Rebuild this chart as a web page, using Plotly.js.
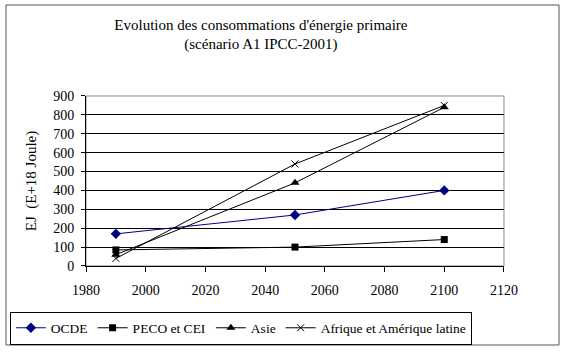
<!DOCTYPE html>
<html><head><meta charset="utf-8">
<script src="https://cdn.plot.ly/plotly-3.0.1.min.js"></script>
<style>body{margin:0;background:#fff}#c{width:567px;height:356px}</style>
</head><body><div id="c"></div>
<script>
const years = [1990, 2050, 2100];
const ocde = [170, 270, 400];
const peco = [85, 100, 140];
const asie = [60, 440, 840];
const afrique = [40, 540, 850];
const names = ['OCDE', 'PECO et CEI', 'Asie', 'Afrique et Amérique latine'];
const xTicks = [1980, 2000, 2020, 2040, 2060, 2080, 2100, 2120];
const yTicks = [0, 100, 200, 300, 400, 500, 600, 700, 800, 900];

const font = {family: '"Liberation Serif", "DejaVu Serif", serif', color: '#000'};
const f = s => Object.assign({size: s}, font);
const traces = [
  {x: years, y: ocde, name: names[0], mode: 'lines+markers', line: {color: '#000080', width: 1}, marker: {symbol: 'diamond', size: 8, color: '#000080'}},
  {x: years, y: peco, name: names[1], mode: 'lines+markers', line: {color: '#000', width: 1}, marker: {symbol: 'square', size: 7, color: '#000'}},
  {x: years, y: asie, name: names[2], mode: 'lines+markers', line: {color: '#000', width: 1}, marker: {symbol: 'triangle-up', size: 8, color: '#000'}},
  {x: years, y: afrique, name: names[3], mode: 'lines+markers', line: {color: '#000', width: 1}, marker: {symbol: 'x-thin', size: 7, line: {color: '#000', width: 1}}}
];
const layout = {
  width: 567, height: 356,
  margin: {l: 6, r: 8, t: 5, b: 11},
  paper_bgcolor: '#fff', plot_bgcolor: '#fff',
  font: f(14),
  title: {text: "Evolution des consommations d'énergie primaire<br>(scénario A1 IPCC-2001)", x: 0.461, xref: 'paper', xanchor: 'center', y: 0.917, yanchor: 'top', font: f(15)},
  xaxis: {domain: [0.1447, 0.9005], range: [1980, 2120], tickvals: xTicks, ticks: 'outside', ticklen: 5, tickcolor: '#000', showgrid: false, zeroline: false, showline: true, linecolor: '#000', ticklabelstandoff: 6, tickfont: f(14)},
  yaxis: {domain: [0.2324, 0.7324], range: [0, 900], tickvals: yTicks, ticks: 'outside', ticklen: 4, tickcolor: '#000', showgrid: true, gridcolor: '#000', gridwidth: 1, zeroline: false, showline: true, linecolor: '#000', ticklabelstandoff: 4, tickfont: f(14),
    title: {text: 'EJ  (E+18 Joule)', standoff: 12, font: f(15)}},
  showlegend: true,
  legend: {orientation: 'h', x: 0.007, xanchor: 'left', y: 0.05, yanchor: 'middle', bordercolor: '#000', borderwidth: 1, bgcolor: '#fff', font: f(13.5), itemwidth: 30, tracegroupgap: 0},
  shapes: [
    {type: 'rect', xref: 'paper', yref: 'paper', x0: 0, x1: 1, y0: 0, y1: 1, line: {color: '#555', width: 1}, layer: 'below'},
    {type: 'rect', xref: 'x domain', yref: 'y domain', x0: 0, x1: 1, y0: 0, y1: 1, line: {color: '#888', width: 1}, layer: 'below'}
  ]
};
Plotly.newPlot('c', traces, layout, {displayModeBar: false, staticPlot: true});
</script>
</body></html>
